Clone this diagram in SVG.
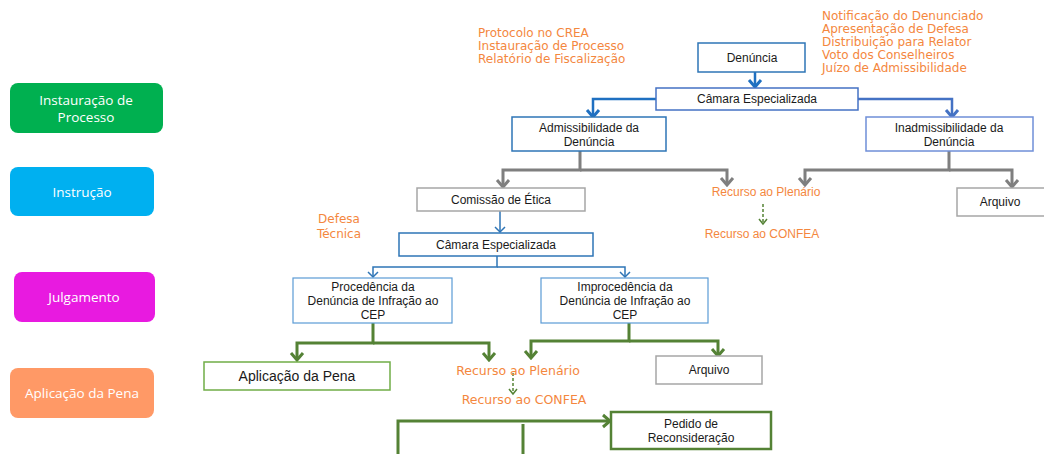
<svg xmlns="http://www.w3.org/2000/svg" width="1044" height="454" viewBox="0 0 1044 454">
<style>
.phase{font-family:"Open Sans","DejaVu Sans",sans-serif;font-size:13.5px;fill:#ffffff;text-anchor:middle}
.bx{font-family:"Liberation Sans","Arial",sans-serif;font-size:12px;fill:#1a1a1a;text-anchor:middle}
.note{font-family:"DejaVu Sans",sans-serif;font-size:12px;fill:#F4873E}
.rec{font-family:"Liberation Sans","Arial",sans-serif;font-size:12px;fill:#F4873E;text-anchor:middle}
.c{fill:none;stroke-linejoin:miter}
</style>
<defs>
<marker id="mGray" viewBox="-9 -8 11 16" refX="0" refY="0" markerWidth="11" markerHeight="16" markerUnits="userSpaceOnUse" orient="auto"><path d="M-7,-6 L0,0 L-7,6" fill="none" stroke="#7F7F7F" stroke-width="3"/></marker>
<marker id="mBlue" viewBox="-9 -8 11 16" refX="0" refY="0" markerWidth="11" markerHeight="16" markerUnits="userSpaceOnUse" orient="auto"><path d="M-7,-6 L0,0 L-7,6" fill="none" stroke="#1F70C1" stroke-width="3"/></marker>
<marker id="mBlue2" viewBox="-9 -8 11 16" refX="0" refY="0" markerWidth="11" markerHeight="16" markerUnits="userSpaceOnUse" orient="auto"><path d="M-7,-6 L0,0 L-7,6" fill="none" stroke="#4472C4" stroke-width="3"/></marker>
<marker id="mBlueThin" viewBox="-7 -7 9 14" refX="0" refY="0" markerWidth="9" markerHeight="14" markerUnits="userSpaceOnUse" orient="auto"><path d="M-5,-5 L0,0 L-5,5" fill="none" stroke="#2E75B6" stroke-width="1.5"/></marker>
<marker id="mGreen" viewBox="-9 -8 11 16" refX="0" refY="0" markerWidth="11" markerHeight="16" markerUnits="userSpaceOnUse" orient="auto"><path d="M-7,-6 L0,0 L-7,6" fill="none" stroke="#548235" stroke-width="3"/></marker>
<marker id="mGreenS" viewBox="-7 -7 9 14" refX="0" refY="0" markerWidth="9" markerHeight="14" markerUnits="userSpaceOnUse" orient="auto"><path d="M-5,-4 L0,0 L-5,4" fill="none" stroke="#548235" stroke-width="1.5"/></marker>
</defs>

<g id="phase-instauracao"><rect x="10" y="83" width="153" height="50" rx="8" fill="#00B050"/><text class="phase" x="86" y="105">Instauração de</text><text class="phase" x="86" y="122">Processo</text></g>
<g id="phase-instrucao"><rect x="10" y="167" width="144" height="49" rx="8" fill="#00B0F0"/><text class="phase" x="82" y="197">Instrução</text></g>
<g id="phase-julgamento"><rect x="14" y="272" width="141" height="50" rx="8" fill="#E81AE0"/><text class="phase" x="84" y="302">Julgamento</text></g>
<g id="phase-aplicacao"><rect x="10" y="368" width="144" height="50" rx="8" fill="#FF9966"/><text class="phase" x="82" y="398">Aplicação da Pena</text></g>

<g id="notes-left"><text class="note" x="478" y="37">Protocolo no CREA</text><text class="note" x="478" y="50">Instauração de Processo</text><text class="note" x="478" y="63">Relatório de Fiscalização</text></g>
<g id="notes-right"><text class="note" x="822" y="20">Notificação do Denunciado</text><text class="note" x="822" y="33">Apresentação de Defesa</text><text class="note" x="822" y="46">Distribuição para Relator</text><text class="note" x="822" y="59">Voto dos Conselheiros</text><text class="note" x="822" y="72">Juízo de Admissibilidade</text></g>
<g id="note-defesa"><text class="note" x="339" y="223" text-anchor="middle">Defesa</text><text class="note" x="339" y="238" text-anchor="middle">Técnica</text></g>

<g id="connectors">
<path class="c" d="M755,72 V87" stroke="#1F70C1" stroke-width="2.5" marker-end="url(#mBlue)"/>
<path class="c" d="M656,99 H593 V117" stroke="#1F70C1" stroke-width="2.5" marker-end="url(#mBlue)"/>
<path class="c" d="M858,99 H952 V117" stroke="#4472C4" stroke-width="2.5" marker-end="url(#mBlue2)"/>
<path class="c" d="M580,151 V170 H503 V187" stroke="#7F7F7F" stroke-width="3" marker-end="url(#mGray)"/>
<path class="c" d="M580,170 H727 V185" stroke="#7F7F7F" stroke-width="3" marker-end="url(#mGray)"/>
<path class="c" d="M949,151 V170 H805 V185" stroke="#7F7F7F" stroke-width="3" marker-end="url(#mGray)"/>
<path class="c" d="M949,170 H1012 V187" stroke="#7F7F7F" stroke-width="3" marker-end="url(#mGray)"/>
<path class="c" d="M763,204 V224" stroke="#548235" stroke-width="1.5" stroke-dasharray="3,2" marker-end="url(#mGreenS)"/>
<path class="c" d="M500,211 V232" stroke="#2E75B6" stroke-width="1.5" marker-end="url(#mBlueThin)"/>
<path class="c" d="M497,256 V267 H373 V277" stroke="#2E75B6" stroke-width="1.5" marker-end="url(#mBlueThin)"/>
<path class="c" d="M497,267 H625 V277" stroke="#2E75B6" stroke-width="1.5" marker-end="url(#mBlueThin)"/>
<path class="c" d="M373,323 V343 H297 V360" stroke="#548235" stroke-width="3" marker-end="url(#mGreen)"/>
<path class="c" d="M373,343 H489 V360" stroke="#548235" stroke-width="3" marker-end="url(#mGreen)"/>
<path class="c" d="M629,323 V341 H531 V358" stroke="#548235" stroke-width="3" marker-end="url(#mGreen)"/>
<path class="c" d="M629,341 H718 V356" stroke="#548235" stroke-width="3" marker-end="url(#mGreen)"/>
<path class="c" d="M513,373 V394" stroke="#548235" stroke-width="1.5" stroke-dasharray="3,2" marker-end="url(#mGreenS)"/>
<path class="c" d="M398,454 V421 H610" stroke="#548235" stroke-width="3" marker-end="url(#mGreen)"/>
<path class="c" d="M523,424 V454" stroke="#548235" stroke-width="3"/>
</g>

<g id="n-denuncia"><rect x="698" y="43" width="107" height="29" fill="#fff" stroke="#2E75B6" stroke-width="1.5"/><text class="bx" x="752" y="62">Denúncia</text></g>
<g id="n-camara1"><rect x="656" y="88" width="202" height="22" fill="#fff" stroke="#4472C4" stroke-width="1.5"/><text class="bx" x="757" y="103">Câmara Especializada</text></g>
<g id="n-admiss"><rect x="512" y="117" width="154" height="34" fill="#fff" stroke="#2E75B6" stroke-width="1.5"/><text class="bx" x="589" y="132">Admissibilidade da</text><text class="bx" x="589" y="146">Denúncia</text></g>
<g id="n-inadmiss"><rect x="866" y="117" width="167" height="34" fill="#fff" stroke="#6F8FD8" stroke-width="1.5"/><text class="bx" x="949" y="132">Inadmissibilidade da</text><text class="bx" x="949" y="146">Denúncia</text></g>
<g id="n-comissao"><rect x="417" y="188" width="168" height="23" fill="#fff" stroke="#A6A6A6" stroke-width="1.5"/><text class="bx" x="501" y="204">Comissão de Ética</text></g>
<g id="n-recurso1"><text class="rec" x="766" y="196">Recurso ao Plenário</text></g>
<g id="n-confea1"><text class="rec" x="762" y="238">Recurso ao CONFEA</text></g>
<g id="n-arquivo1"><rect x="957" y="188" width="88" height="28" fill="#fff" stroke="#A6A6A6" stroke-width="1.5"/><text class="bx" x="1000" y="206">Arquivo</text></g>
<g id="n-camara2"><rect x="399" y="233" width="194" height="23" fill="#fff" stroke="#2E75B6" stroke-width="1.5"/><text class="bx" x="496" y="249">Câmara Especializada</text></g>
<g id="n-proced"><rect x="293" y="278" width="159" height="45" fill="#fff" stroke="#5B9BD5" stroke-width="1.2"/><text class="bx" x="373" y="291">Procedência da</text><text class="bx" x="373" y="305">Denúncia de Infração ao</text><text class="bx" x="373" y="319">CEP</text></g>
<g id="n-improced"><rect x="541" y="278" width="167" height="45" fill="#fff" stroke="#5B9BD5" stroke-width="1.2"/><text class="bx" x="625" y="291">Improcedência da</text><text class="bx" x="625" y="305">Denúncia de Infração ao</text><text class="bx" x="625" y="319">CEP</text></g>
<g id="n-aplicacao"><rect x="204" y="362" width="186" height="28" fill="#fff" stroke="#70AD47" stroke-width="1.5"/><text class="bx" x="297" y="381" style="font-size:14px">Aplicação da Pena</text></g>
<g id="n-recurso2"><text class="note" x="518" y="375" text-anchor="middle" style="font-size:12.5px">Recurso ao Plenário</text></g>
<g id="n-confea2"><text class="note" x="524" y="404" text-anchor="middle" style="font-size:12.5px">Recurso ao CONFEA</text></g>
<g id="n-arquivo2"><rect x="656" y="356" width="106" height="28" fill="#fff" stroke="#A6A6A6" stroke-width="1.5"/><text class="bx" x="709" y="374">Arquivo</text></g>
<g id="n-pedido"><rect x="611" y="412" width="160" height="37" fill="#fff" stroke="#548235" stroke-width="2.5"/><text class="bx" x="691" y="428">Pedido de</text><text class="bx" x="691" y="442">Reconsideração</text></g>
</svg>
